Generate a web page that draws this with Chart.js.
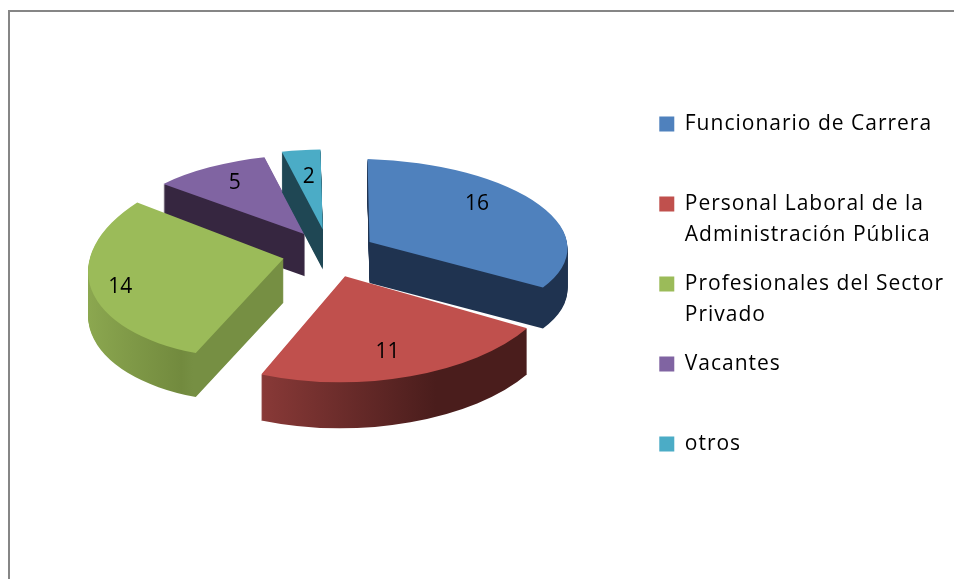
<!DOCTYPE html>
<html>
<head>
<meta charset="utf-8">
<style>
  html, body { margin: 0; padding: 0; background: #fff; overflow: hidden; width: 954px; height: 579px; }
  #frame { position: absolute; left: 8px; top: 10px; width: 1100px; height: 800px; border: 2px solid #868686; }
  canvas { position: absolute; left: 0; top: 0; }
</style>
<script src="https://cdn.jsdelivr.net/npm/chart.js@4"></script>
</head>
<body>
<div id="frame"></div>
<canvas id="chart" width="1000" height="579"></canvas>
<script>
// Data
const categories = [
  ["Funcionario de Carrera", ""],
  ["Personal Laboral de la", "Administración Pública"],
  ["Profesionales del Sector", "Privado"],
  ["Vacantes", ""],
  "otros",
];
const values = [16, 11, 14, 5, 2];

// Slice styles
const faceColors = ["#4f81bd", "#c0504d", "#9bbb59", "#8064a2", "#4bacc6"];
const explode = [149, 151, 142, 165, 203];
const depths = [41, 46, 44, 42, 40];
// wall colour stops across each slice, left to right
const wallStops = [
  [[0, "#1f3350"], [1, "#1f3350"]],
  [[0.3, "#8a3a38"], [0.72, "#4a1d1c"], [1, "#4a1d1c"]],
  [[0, "#8ca850"], [0.27, "#728a3e"], [0.3, "#768f43"], [1, "#768f43"]],
  [[0, "#362640"], [1, "#362640"]],
  [[0, "#1f4754"], [1, "#1f4754"]],
];
// how each flat slice is tilted on screen: a, b, c, d in px for a unit radius
const tilts = [
  [198, 5, 3, 83],
  [212, -1, -3, 106],
  [195, -6, -14, 100],
  [190, 1, -12, 80],
  [197, 0, -4, 80],
];
// where the number sits inside its slice, in unit radius
const labelSpots = [[0.55, -0.49], [0.21, 0.72], [-0.82, 0.24], [-0.41, -0.64], [-0.085, -0.66]];
const drawOrder = [3, 4, 2, 0, 1];

function realRadius(arc, off) {
  // arc.draw grows the radius a bit with the offset
  const fix = 1 - Math.sin(Math.min(Math.PI, arc.circumference));
  return arc.outerRadius + (off / 4) * fix;
}

function applyTilt(ctx, arc, i) {
  const r = realRadius(arc, explode[i]);
  const [a, b, c, d] = tilts[i];
  ctx.translate(arc.x, arc.y);
  ctx.transform(a / r, b / r, c / r, d / r, 0, 0);
  ctx.translate(-arc.x, -arc.y);
}

const pie3d = {
  id: "pie3d",
  // the legend text in the picture is tracked out, so measure and draw it that way
  beforeUpdate(chart) {
    chart.ctx.letterSpacing = "1px";
  },
  beforeDraw(chart) {
    chart.ctx.letterSpacing = "1px";
  },
  beforeDatasetDraw(chart, args) {
    const ctx = chart.ctx;
    const arcs = args.meta.data;
    drawOrder.forEach((i) => {
      const arc = arcs[i];
      const face = arc.options;
      const r = realRadius(arc, explode[i]);
      const grad = ctx.createLinearGradient(arc.x - r, 0, arc.x + r, 0);
      wallStops[i].forEach((s) => grad.addColorStop(s[0], s[1]));
      const wall = Object.create(face);
      wall.backgroundColor = grad;
      arc.options = wall;
      for (let y = depths[i]; y > 0; y--) {
        ctx.save();
        ctx.translate(0, y);
        applyTilt(ctx, arc, i);
        arc.draw(ctx);
        ctx.restore();
      }
      arc.options = face;
      ctx.save();
      applyTilt(ctx, arc, i);
      arc.draw(ctx);
      ctx.restore();
    });
    return false;
  },
  afterDatasetsDraw(chart) {
    const ctx = chart.ctx;
    const arcs = chart.getDatasetMeta(0).data;
    ctx.save();
    ctx.letterSpacing = "0px";
    ctx.font = "21px 'Open Sans'";
    ctx.fillStyle = "#000";
    ctx.textAlign = "center";
    ctx.textBaseline = "middle";
    arcs.forEach((arc, i) => {
      const [a, b, c, d] = tilts[i];
      const r = realRadius(arc, explode[i]);
      const half = (arc.startAngle + arc.endAngle) / 2;
      const dx = (Math.cos(half) * explode[i]) / 4 / r + labelSpots[i][0];
      const dy = (Math.sin(half) * explode[i]) / 4 / r + labelSpots[i][1];
      ctx.fillText(String(values[i]), arc.x + a * dx + c * dy, arc.y + b * dx + d * dy);
    });
    ctx.restore();
  },
};

new Chart(document.getElementById("chart"), {
  type: "pie",
  data: {
    labels: categories,
    datasets: [{
      data: values,
      backgroundColor: faceColors,
      borderWidth: 0,
      offset: explode,
    }],
  },
  options: {
    responsive: false,
    animation: false,
    radius: 150,
    layout: { padding: { left: 16, right: 46, bottom: 77 } },
    plugins: {
      tooltip: { enabled: false },
      legend: {
        position: "right",
        align: "start",
        title: { display: true, text: " ", padding: { top: 81 } },
        labels: {
          boxWidth: 15,
          boxHeight: 15,
          padding: 18,
          color: "#000",
          font: { family: "'Open Sans'", size: 21, lineHeight: "31px" },
        },
      },
    },
  },
  plugins: [pie3d],
});
</script>
</body>
</html>
